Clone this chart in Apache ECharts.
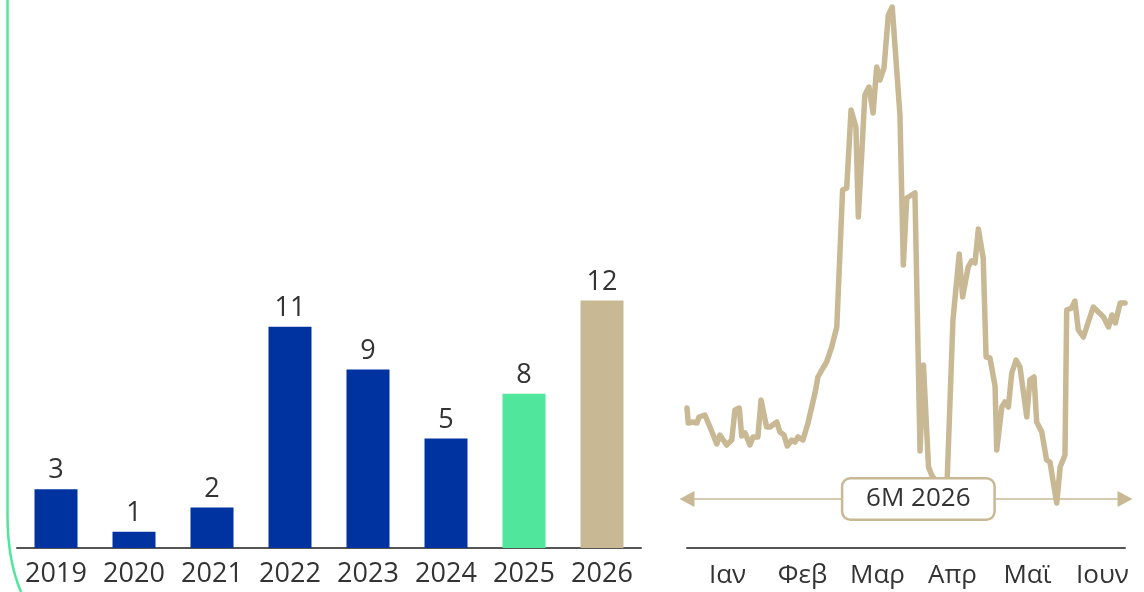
<!DOCTYPE html>
<html>
<head>
<meta charset="utf-8">
<script src="https://cdn.jsdelivr.net/npm/echarts@6/dist/echarts.min.js"></script>
<style>
  html, body { margin: 0; padding: 0; background: #fff; }
  #chart { width: 1144px; height: 592px; }
</style>
</head>
<body>
<div id="chart"></div>
<script>
// yearly counts (left panel)
const years = ['2019', '2020', '2021', '2022', '2023', '2024', '2025', '2026']
const counts = [2.9, 0.8, 2.0, 10.9, 8.8, 5.4, 7.6, 12.2]

// daily index, first half of 2026 (right panel) - day offset from 1 Jan
const months = ['Ιαν', 'Φεβ', 'Μαρ', 'Απρ', 'Μαϊ', 'Ιουν']
const days = [0, 0.5, 2.5, 4.1, 5, 7.4, 9.5, 12.3, 13.6, 16.4, 18.5, 19.8, 21.6, 22.6, 24, 26, 27.3, 29.3,
  30.6, 32.9, 34.3, 37.1, 38.4, 40.1, 41.4, 43.3, 44.6, 45.9, 47.9, 50, 52.9, 54.1, 56.2, 57.7, 59.8, 61.9,
  64.3, 66, 67.8, 69.8, 70.8, 73.5, 75.2, 76.9, 78.4, 79.7, 81.4, 83.2, 84.8, 88, 89.4, 90.8, 94.2,
  96.3, 97.7, 99.8, 101.1, 102.6, 104.3, 107.4, 109.9, 112.5, 113.9, 116.2, 117.6, 119, 120.4, 122.4,
  123.6, 125.2, 127.3, 128, 130.1, 131.4, 132.8, 134.2, 136, 137.6, 140.4, 141.7, 143.4, 144.5, 146.6,
  148.6, 150, 151.4, 152.8, 154.2, 156.2, 156.9, 159, 160.3, 161.7, 163.8, 167.9, 172.1, 174.2, 175.6,
  177, 179, 181]
const index = [28, 25, 25.2, 25, 26.2, 26.6, 24.2, 20.8, 22.6, 20.6, 21.6, 27.6, 28, 22.4, 23, 20.6, 22.2, 22.2,
  29.6, 24.2, 24.2, 25.2, 23.2, 22.6, 20.4, 21.6, 21.2, 22.2, 21.6, 25, 31, 34.2, 36, 37.2, 40.2, 44.2,
  71.6, 72, 87.6, 84.2, 66.2, 90.6, 92.2, 87, 96.2, 93.6, 96, 106.6, 108.2, 86.6, 56.6, 70, 71,
  19.4, 36.6, 16.2, 14.6, 13.6, 9.6, 12, 45.6, 58.8, 50.2, 56.2, 57.4, 57, 63.8, 58,
  38.2, 38, 32.4, 19.6, 28.2, 29.2, 28.2, 35, 37.6, 36.2, 26.2, 33.6, 34.2, 25.2, 23.2,
  17.6, 17.2, 13, 9, 16.2, 18.6, 47.6, 48, 49.4, 43.6, 42.2, 48.2, 46.2, 44.2, 46.6,
  45, 49, 49]

const periodLabel = '6M 2026'
const periodStart = 0, periodEnd = 181, periodMid = 95.6, periodLevel = 9.8

const blue = '#0033a0', green = '#50e69b', tan = '#c8b994', ink = '#333333'
const font = 'Open Sans, Noto Sans, sans-serif'
const barColors = years.map((y, i) => i === years.length - 1 ? tan : i === years.length - 2 ? green : blue)

const chart = echarts.init(document.getElementById('chart'), null, { renderer: 'canvas' })

chart.setOption({
  animation: false,
  textStyle: { fontFamily: font, color: ink },
  grid: [
    { left: 17, width: 624, top: 0, bottom: 44 },
    { left: 687, width: 438, top: 0, bottom: 44 },
    { left: 690, width: 450, top: 0, bottom: 44 },
  ],
  xAxis: [
    {
      type: 'category', data: years, gridIndex: 0,
      axisLine: { lineStyle: { color: '#555', width: 2 } }, axisTick: { show: false },
      axisLabel: { color: ink, fontFamily: font, fontSize: 27, margin: 13, interval: 0 },
    },
    {
      type: 'value', gridIndex: 1, min: 0, max: 181,
      axisLine: { show: true, onZero: false, lineStyle: { color: '#555', width: 2 } },
      axisTick: { show: false }, axisLabel: { show: false }, splitLine: { show: false },
    },
    {
      type: 'category', data: months, gridIndex: 2,
      axisLine: { show: false }, axisTick: { show: false },
      axisLabel: { color: ink, fontFamily: font, fontSize: 26, margin: 15, interval: 0 },
    },
  ],
  yAxis: [
    { type: 'value', gridIndex: 0, min: 0, max: 27, show: false },
    { type: 'value', gridIndex: 1, min: 0, max: 109.6, show: false },
    { type: 'value', gridIndex: 2, min: 0, max: 1, show: false },
  ],
  graphic: [
    {
      type: 'line', silent: true,
      shape: { x1: 7.5, y1: 0, x2: 7.5, y2: 515 },
      style: { stroke: green, lineWidth: 2.5 },
    },
    {
      type: 'bezierCurve', silent: true,
      shape: { x1: 7.5, y1: 515, cpx1: 7.5, cpy1: 560, x2: 21, y2: 592 },
      style: { fill: 'none', stroke: green, lineWidth: 2.5 },
    },
  ],
  series: [
    {
      type: 'bar', xAxisIndex: 0, yAxisIndex: 0, barWidth: 43,
      data: counts.map((v, i) => ({ value: v, itemStyle: { color: barColors[i] } })),
      label: {
        show: true, position: 'top', distance: 5, color: ink, fontFamily: font, fontSize: 27,
        formatter: p => Math.round(p.value),
      },
    },
    {
      type: 'line', xAxisIndex: 1, yAxisIndex: 1, z: 3, clip: false,
      data: days.map((d, i) => [d, index[i]]),
      showSymbol: false, smooth: false,
      lineStyle: { color: tan, width: 5.5, cap: 'round', join: 'round' },
      markLine: {
        silent: true, symbol: ['triangle', 'triangle'], symbolSize: [16, 15],
        label: { show: false },
        lineStyle: { color: tan, width: 1.5, type: 'solid' },
        data: [[{ coord: [periodStart, periodLevel] }, { coord: [periodEnd, periodLevel] }]],
      },
    },
    {
      type: 'scatter', xAxisIndex: 1, yAxisIndex: 1, z: 5, silent: true,
      data: [[periodMid, periodLevel]],
      symbol: 'rect', symbolSize: 1,
      itemStyle: { color: 'rgba(255,255,255,0)', opacity: 1 },
      label: {
        show: true, position: 'inside', formatter: periodLabel, color: ink, fontFamily: font, fontSize: 26,
        width: 150, height: 39, lineHeight: 39, align: 'center', verticalAlign: 'middle', padding: 0,
        backgroundColor: '#fff', borderColor: tan, borderWidth: 2.5, borderRadius: 7,
      },
    },
  ],
})
</script>
</body>
</html>
